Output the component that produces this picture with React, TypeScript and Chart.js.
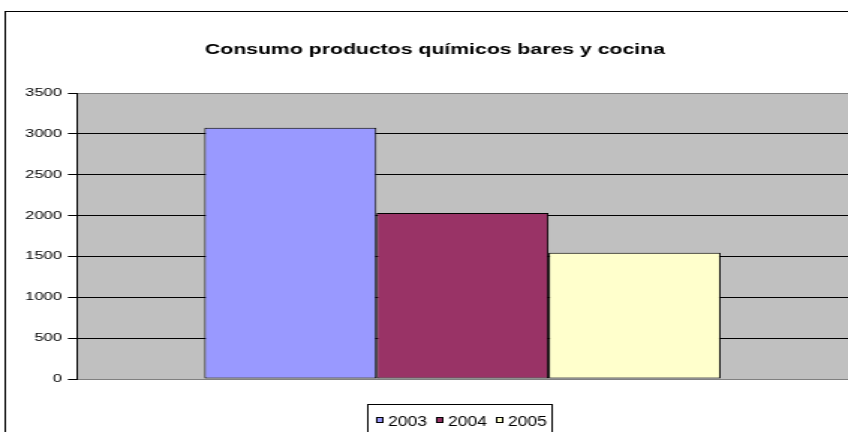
import React, { useEffect, useRef } from 'react';
import { Chart, registerables } from 'chart.js';

Chart.register(...registerables);

const TITLE = 'Consumo productos químicos bares y cocina';
const categories = ['Consumo'];
const seriesLabels = ['2003', '2004', '2005'];
const values2003 = [3075];
const values2004 = [2030];
const values2005 = [1545];
const seriesColors = ['#9999FF', '#993366', '#FFFFCC'];
const yMin = 0;
const yMax = 3500;
const yStep = 500;

const FONT = '"Liberation Sans", Arial, Helvetica, sans-serif';
const W = 566;
const H = 432;
const SX = 848 / W;

function drawScaledText(ctx: any, text: string, x: number, y: number, scale: number, align: 'left' | 'center') {
  ctx.save();
  ctx.translate(x, y);
  ctx.scale(scale, 1);
  ctx.textAlign = align;
  ctx.fillText(text, 0, 0);
  ctx.restore();
}

const chrome = {
  id: 'excelChrome',
  beforeDraw(chart: any) {
    const { ctx, chartArea } = chart;
    ctx.save();
    ctx.fillStyle = '#FFFFFF';
    ctx.fillRect(0, 0, chart.width, chart.height);
    ctx.strokeStyle = '#000000';
    ctx.lineWidth = 1;
    ctx.strokeRect(3.5, 11.5, 1000, 1000);
    ctx.fillStyle = '#C0C0C0';
    ctx.fillRect(chartArea.left, chartArea.top, chartArea.right - chartArea.left, chartArea.bottom - chartArea.top);
    ctx.restore();
  },
  afterDraw(chart: any) {
    const { ctx } = chart;
    ctx.save();
    ctx.fillStyle = '#000000';
    ctx.textBaseline = 'alphabetic';

    // title
    ctx.font = `bold 15px ${FONT}`;
    const tw = ctx.measureText(TITLE).width;
    drawScaledText(ctx, TITLE, 290.3, 54, 307 / tw, 'center');

    // legend
    ctx.font = `14px ${FONT}`;
    const ds = chart.data.datasets;
    const ref = ctx.measureText('2003').width;
    const lscale = 26 / ref;
    const boxLeft = 245.5;
    let x = 251;
    const positions: number[] = [];
    for (let i = 0; i < ds.length; i++) {
      positions.push(x);
      const w = ctx.measureText(ds[i].label).width * lscale;
      x += 8 + w + 6;
    }
    const boxRight = x - 6 + 3.5;
    ctx.strokeStyle = '#000000';
    ctx.lineWidth = 1;
    ctx.strokeRect(boxLeft, 404.5, Math.round(boxRight - boxLeft), 60);
    for (let i = 0; i < ds.length; i++) {
      const px = Math.round(positions[i]);
      ctx.fillStyle = ds[i].backgroundColor;
      ctx.fillRect(px, 417, 5, 6);
      ctx.strokeStyle = '#000000';
      ctx.strokeRect(px + 0.5, 417.5, 4, 5);
      ctx.fillStyle = '#000000';
      drawScaledText(ctx, ds[i].label, positions[i] + 8, 426, lscale, 'left');
    }
    ctx.restore();
  },
};

export default function App() {
  const ref = useRef<HTMLCanvasElement>(null);
  useEffect(() => {
    if (!ref.current) return;
    const valueSets = [values2003, values2004, values2005];
    const chart = new Chart(ref.current, {
      type: 'bar',
      data: {
        labels: categories,
        datasets: seriesLabels.map((label, i) => ({
          label,
          data: valueSets[i],
          backgroundColor: seriesColors[i],
          borderColor: '#000000',
          borderWidth: 1,
          borderSkipped: false,
          categoryPercentage: 0.6695,
          barPercentage: 1,
        })),
      },
      options: {
        animation: false,
        responsive: true,
        maintainAspectRatio: false,
        devicePixelRatio: 1,
        layout: { padding: { top: 93, bottom: 53, left: 0, right: 0 } },
        plugins: {
          legend: { display: false },
          title: { display: false },
          tooltip: { enabled: false },
        },
        scales: {
          x: { display: false },
          y: {
            min: yMin,
            max: yMax,
            afterFit: (s: any) => {
              s.width = 51.33;
            },
            ticks: {
              stepSize: yStep,
              color: '#000000',
              padding: 4,
              font: { family: FONT, size: 11 },
              callback: (v: any) => String(v),
            },
            grid: {
              color: (c: any) =>
                c.tick && (c.tick.value === yMin || c.tick.value === yMax) ? '#808080' : '#000000',
              lineWidth: 1,
              drawTicks: true,
              tickLength: 6,
              tickColor: '#000000',
            },
            border: { display: true, color: '#000000', width: 1 },
          },
        },
      },
      plugins: [chrome],
    });
    return () => chart.destroy();
  }, []);
  return (
    <div
      style={{
        position: 'absolute',
        left: 0,
        top: 0,
        width: W,
        height: H,
        transform: `scale(${SX}, 1)`,
        transformOrigin: '0 0',
      }}
    >
      <canvas ref={ref} />
    </div>
  );
}
